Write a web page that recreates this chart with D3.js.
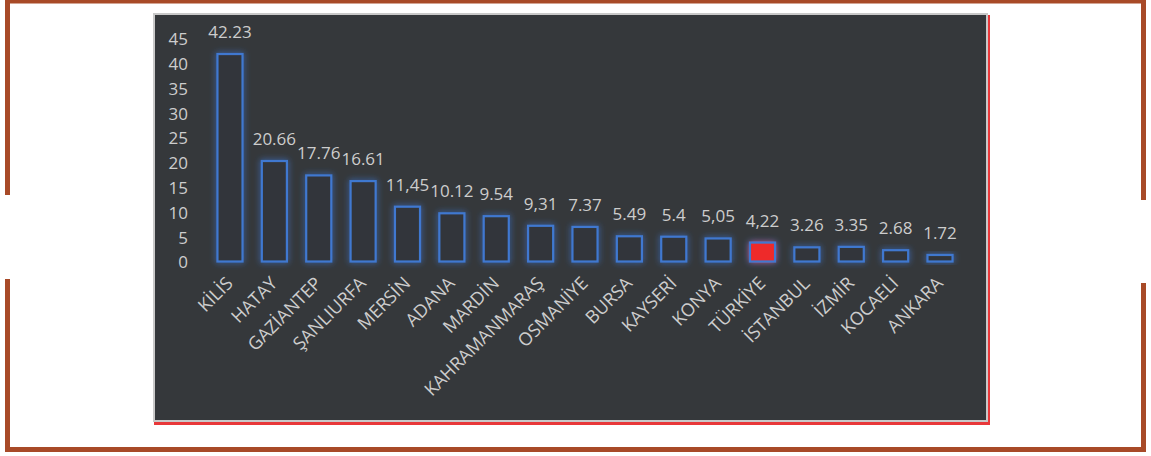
<!DOCTYPE html>
<html><head><meta charset="utf-8">
<script src="https://cdn.jsdelivr.net/npm/d3@7"></script>
<style>body{margin:0;background:#fff}svg{display:block}</style>
</head><body>
<script>
const categories = ["KİLİS","HATAY","GAZİANTEP","ŞANLIURFA","MERSİN","ADANA","MARDİN","KAHRAMANMARAŞ","OSMANİYE","BURSA","KAYSERİ","KONYA","TÜRKİYE","İSTANBUL","İZMİR","KOCAELİ","ANKARA"];
const barValues = [42.23,20.66,17.76,16.61,11.45,10.12,9.54,7.6,7.37,5.49,5.4,5.05,4.22,3.26,3.35,2.68,1.72];
const valueLabels = ["42.23","20.66","17.76","16.61","11,45","10.12","9.54","9,31","7.37","5.49","5.4","5,05","4,22","3.26","3.35","2.68","1.72"];
const yTicks = [0,5,10,15,20,25,30,35,40,45];
const highlight = "TÜRKİYE";

const W = 1151, H = 456;
const svg = d3.select("body").append("svg").attr("width", W).attr("height", H);
svg.append("rect").attr("width", W).attr("height", H).attr("fill", "#fff");

// brown frame
const brown = "#a84a28";
const frame = svg.append("g").attr("fill", brown);
frame.append("rect").attr("x",5).attr("y",0).attr("width",1141).attr("height",3.5);
frame.append("rect").attr("x",5).attr("y",447).attr("width",1141).attr("height",5);
frame.append("rect").attr("x",5).attr("y",0).attr("width",5).attr("height",195);
frame.append("rect").attr("x",5).attr("y",279).attr("width",5).attr("height",173);
frame.append("rect").attr("x",1141).attr("y",0).attr("width",5).attr("height",200);
frame.append("rect").attr("x",1141).attr("y",283).attr("width",5).attr("height",169);

// panel
svg.append("rect").attr("x",154).attr("y",15).attr("width",836).attr("height",410).attr("fill","#e8383a");
svg.append("rect").attr("x",153).attr("y",13).attr("width",835).attr("height",409).attr("fill","#c9c9c9");
svg.append("rect").attr("x",155).attr("y",15).attr("width",831).attr("height",405).attr("fill","#35383b");

const defs = svg.append("defs");
const f = defs.append("filter").attr("id","glow").attr("x","-50%").attr("y","-50%").attr("width","200%").attr("height","200%");
f.append("feGaussianBlur").attr("in","SourceGraphic").attr("stdDeviation",3).attr("result","b");
const m = f.append("feMerge");
m.append("feMergeNode").attr("in","b");
m.append("feMergeNode").attr("in","SourceGraphic");

const x = d3.scaleBand().domain(categories).range([207.8, 962.2]).paddingInner(0.39).paddingOuter(0.195);
const y = d3.scaleLinear().domain([0,45]).range([262.5, 39.3]);

const font = "'Open Sans', sans-serif";
const txt = "#cdcdcd";

// y axis
const ya = svg.append("g").attr("transform","translate(190,0)")
  .call(d3.axisLeft(y).tickValues(yTicks).tickSize(0).tickPadding(2));
ya.select(".domain").remove();
ya.selectAll("text").attr("fill", txt).style("font-family", font).style("font-size","17px");

// bars
const data = categories.map((c,i)=>({c, v: barValues[i], l: valueLabels[i]}));
svg.append("g").selectAll("rect").data(data).join("rect")
  .attr("x", d=>x(d.c)+1).attr("y", d=>y(d.v)+1)
  .attr("width", x.bandwidth()-2).attr("height", d=>y(0)-y(d.v)-2)
  .attr("fill", d=>d.c===highlight ? "#ee2b2b" : "#33363a")
  .attr("stroke", "#3f78d0").attr("stroke-width", 2.2)
  .attr("filter","url(#glow)");

// value labels
svg.append("g").selectAll("text").data(data).join("text")
  .attr("x", d=>x(d.c)+x.bandwidth()/2).attr("y", d=>y(d.v)-15)
  .attr("text-anchor","middle").attr("fill", txt)
  .style("font-family", font).style("font-size","17px")
  .text(d=>d.l);

// x axis labels
const xa = svg.append("g").attr("transform","translate(0,262.5)")
  .call(d3.axisBottom(x).tickSize(0).tickPadding(0));
xa.select(".domain").remove();
xa.selectAll("text")
  .attr("fill", txt).style("font-family", font).style("font-size","18px")
  .attr("text-anchor","end")
  .attr("dy", null).attr("y", 0)
  .attr("transform","translate(4,22) rotate(-45)");
</script>
</body></html>
